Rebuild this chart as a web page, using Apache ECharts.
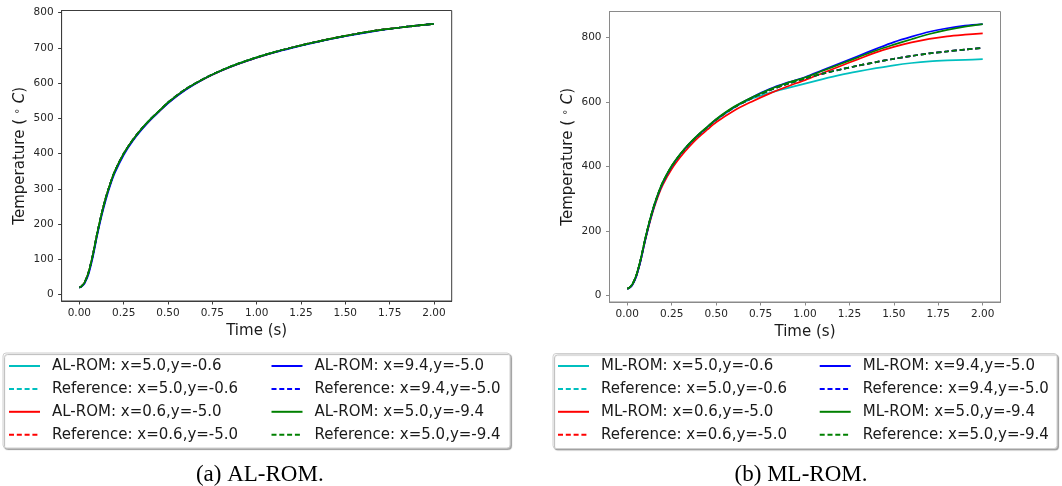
<!DOCTYPE html>
<html><head><meta charset="utf-8">
<script src="https://cdn.jsdelivr.net/npm/echarts@6/dist/echarts.min.js"></script>
<style>html,body{margin:0;padding:0;background:#fff}#c{width:1062px;height:486px}</style>
</head><body><div id="c"></div>
<script>
// ---- data ----
const timeS = [0, 0.01, 0.02, 0.03, 0.05, 0.075, 0.1, 0.125, 0.15, 0.175, 0.2, 0.25, 0.3, 0.35, 0.4, 0.45, 0.5, 0.6, 0.7, 0.8, 0.9, 1.0, 1.1, 1.2, 1.3, 1.4, 1.5, 1.6, 1.7, 1.8, 1.9, 2.0];
const referenceTemp = [20, 23, 28, 35, 60, 110, 172, 228, 276, 316, 350, 400, 438, 470, 497, 521, 545, 583, 612, 636, 656, 673, 688, 701, 713, 724, 734, 743, 751, 757, 763, 768];
// AL-ROM (left panel)
const alCyan  = [20, 23, 28, 35, 60, 110, 172, 228, 276, 316, 350, 400, 438, 470, 497, 521, 545, 583, 612, 636, 656, 673, 688, 701, 713, 724, 734, 743, 751, 757, 763, 768];
const alRed   = [20, 23, 28, 35, 59, 109, 171, 227, 275, 315, 349, 399, 437, 469, 496, 520, 544, 582, 611, 635, 655, 672, 687, 701, 713, 724, 734, 743, 751, 757, 763, 768];
const alBlue  = [20, 22, 26, 32, 55, 104, 166, 222, 270, 311, 345, 396, 435, 467, 495, 519, 543, 581, 611, 635, 655, 672, 687, 700, 712, 723, 733, 742, 750, 757, 763, 768];
const alGreen = [20, 23, 28, 35, 60, 110, 172, 228, 276, 316, 350, 400, 438, 470, 497, 521, 545, 583, 612, 636, 656, 673, 688, 701, 713, 724, 734, 743, 751, 757, 763, 768];
// ML-ROM (right panel)
const mlCyan  = [20, 23, 28, 35, 60, 110, 172, 228, 276, 316, 350, 400, 438, 470, 497, 521, 544, 582, 610, 628, 643, 657, 671, 684, 695, 705, 714, 721, 726, 729, 731, 733];
const mlRed   = [20, 23, 27, 34, 58, 107, 168, 223, 270, 310, 343, 392, 430, 462, 490, 514, 537, 573, 601, 626, 648, 668, 690, 712, 733, 754, 771, 785, 796, 804, 809, 813];
const mlBlue  = [20, 22, 26, 33, 57, 106, 168, 225, 274, 315, 349, 400, 439, 471, 498, 522, 546, 584, 614, 640, 660, 677, 699, 721, 743, 765, 786, 803, 818, 829, 837, 842];
const mlGreen = [20, 23, 28, 35, 61, 111, 174, 230, 278, 318, 352, 402, 440, 472, 499, 523, 547, 585, 614, 639, 659, 676, 697, 718, 739, 760, 778, 795, 811, 824, 834, 842];
// ticks and labels
const xTicks = [0, 0.25, 0.5, 0.75, 1.0, 1.25, 1.5, 1.75, 2.0];
const yTicksAL = [0, 100, 200, 300, 400, 500, 600, 700, 800];
const yTicksML = [0, 200, 400, 600, 800];
const locations = ['x=5.0,y=-0.6', 'x=0.6,y=-5.0', 'x=9.4,y=-5.0', 'x=5.0,y=-9.4'];
const lineColors = ['#00bfbf', '#ff0000', '#0000ff', '#008000'];
const captions = ['(a) AL-ROM.', '(b) ML-ROM.'];

// ---- build ----
const FONT = 'DejaVu Sans';
const zip = arr => timeS.map((t, i) => [t, arr[i]]);
const panels = [
  { prefix: 'AL-ROM', roms: [alCyan, alRed, alBlue, alGreen], yTicks: yTicksAL, ymin: -18, ymax: 806, spine: '#3c3c3c',
    grid: { left: 61.6, top: 10.5, width: 390.1, height: 290.5 } },
  { prefix: 'ML-ROM', roms: [mlCyan, mlRed, mlBlue, mlGreen], yTicks: yTicksML, ymin: -21, ymax: 881, spine: '#8a8a8a',
    grid: { left: 609.5, top: 11.5, width: 391, height: 290.5 } }
];

const series = [], grids = [], xAxes = [], yAxes = [], legends = [];
panels.forEach((p, gi) => {
  grids.push(Object.assign({ show: true, borderColor: p.spine, borderWidth: 1, backgroundColor: '#fff' }, p.grid));
  xAxes.push({
    gridIndex: gi, type: 'value', min: -0.1, max: 2.1,
    name: 'Time (s)', nameLocation: 'middle', nameGap: 21.5,
    nameTextStyle: { fontFamily: FONT, fontSize: 15, color: '#1a1a1a' },
    axisLine: { show: true, onZero: false, lineStyle: { color: p.spine, width: 1 } },
    axisTick: { show: true, length: 3.5, lineStyle: { color: p.spine, width: 1 }, customValues: xTicks },
    axisLabel: { customValues: xTicks, formatter: v => v.toFixed(2), fontFamily: FONT, fontSize: 10.5, color: '#262626', margin: 7 },
    splitLine: { show: false }
  });
  yAxes.push({
    gridIndex: gi, type: 'value', min: p.ymin, max: p.ymax,
    name: 'Temperature ( {sup|∘} {it|C})', nameLocation: 'middle', nameGap: 33.5,
    nameTextStyle: { fontFamily: FONT, fontSize: 15, color: '#1a1a1a',
      rich: { sup: { fontFamily: FONT, fontSize: 10, color: '#1a1a1a', verticalAlign: 'top', padding: [0, 0, 6, 0] },
              it: { fontFamily: FONT, fontSize: 15, fontStyle: 'italic', color: '#1a1a1a' } } },
    axisLine: { show: true, onZero: false, lineStyle: { color: p.spine, width: 1 } },
    axisTick: { show: true, length: 3.5, lineStyle: { color: p.spine, width: 1 }, customValues: p.yTicks },
    axisLabel: { customValues: p.yTicks, fontFamily: FONT, fontSize: 10.5, color: '#262626', margin: 8 },
    splitLine: { show: false }
  });
  const names = [];
  locations.forEach((loc, i) => {
    const romName = p.prefix + ': ' + loc, refName = 'Reference: ' + loc;
    names.push(romName, refName);
    series.push({ type: 'line', name: romName, xAxisIndex: gi, yAxisIndex: gi, data: zip(p.roms[i]),
      symbol: 'none', smooth: 0.3, animation: false, lineStyle: { color: lineColors[i], width: 1.7 }, itemStyle: { color: lineColors[i] } });
    series.push({ type: 'line', name: refName, xAxisIndex: gi, yAxisIndex: gi, data: zip(referenceTemp),
      symbol: 'none', smooth: 0.3, animation: false, lineStyle: { color: lineColors[i], width: 1.7, type: [5, 2.8] }, itemStyle: { color: lineColors[i] } });
  });
  const legendLeft = gi === 0 ? [8, 270.5] : [557, 818.7];
  [names.slice(0, 4), names.slice(4, 8)].forEach((d, k) => {
    legends.push({ data: d, orient: 'vertical', left: legendLeft[k], top: 358.5, itemWidth: 31, itemHeight: 14, itemGap: 7.9,
      selectedMode: false, padding: 0,
      itemStyle: { opacity: 0, borderWidth: 0 },
      lineStyle: { opacity: 1 },
      textStyle: { fontFamily: FONT, fontSize: 15, color: '#1a1a1a', padding: [0, 0, 0, 7] } });
  });
});

const graphic = [
  { type: 'rect', z: -1, shape: { x: 3, y: 353, width: 507, height: 95, r: 3 },
    style: { fill: '#fff', stroke: '#cfcfcf', lineWidth: 1, shadowColor: 'rgba(0,0,0,0.3)', shadowOffsetX: 1.5, shadowOffsetY: 1.5, shadowBlur: 1 } },
  { type: 'rect', z: -1, shape: { x: 553, y: 353.5, width: 504, height: 95, r: 3 },
    style: { fill: '#fff', stroke: '#cfcfcf', lineWidth: 1, shadowColor: 'rgba(0,0,0,0.3)', shadowOffsetX: 1.5, shadowOffsetY: 1.5, shadowBlur: 1 } },
  { type: 'text', x: 259.8, y: 475, style: { text: captions[0], font: '23px "Liberation Serif"', fill: '#000', textAlign: 'center', textVerticalAlign: 'middle' } },
  { type: 'text', x: 801, y: 475, style: { text: captions[1], font: '23px "Liberation Serif"', fill: '#000', textAlign: 'center', textVerticalAlign: 'middle' } }
];

const chart = echarts.init(document.getElementById('c'), null, { renderer: 'canvas' });
chart.setOption({ animation: false, backgroundColor: '#fff', grid: grids, xAxis: xAxes, yAxis: yAxes, legend: legends, series, graphic });
</script></body></html>
